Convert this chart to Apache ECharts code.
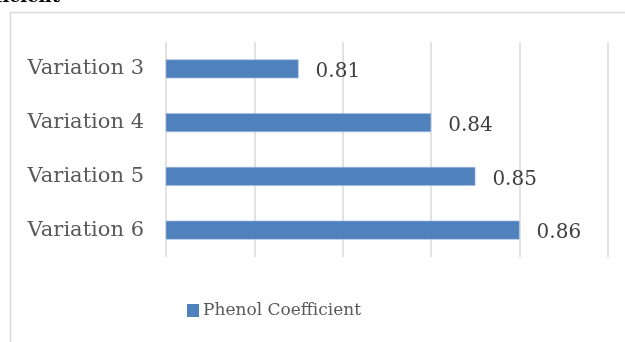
<!DOCTYPE html>
<html>
<head>
<meta charset="utf-8">
<script src="https://cdn.jsdelivr.net/npm/echarts@6/dist/echarts.min.js"></script>
<style>html,body{margin:0;padding:0;background:#fff}#c{width:625px;height:342px}</style>
</head>
<body>
<div id="c"></div>
<script>
const categories = ['Variation 3', 'Variation 4', 'Variation 5', 'Variation 6'];
const values = [0.81, 0.84, 0.85, 0.86];
const seriesName = 'Phenol Coefficient';
const titleText = 'Phenol Coefficient';

const FONT = 'DejaVu Serif';
const chart = echarts.init(document.getElementById('c'), null, {renderer: 'canvas'});
chart.setOption({
  animation: false,
  backgroundColor: '#fff',
  graphic: [
    {type: 'rect', shape: {x: 10.5, y: 12.5, width: 700, height: 400}, style: {fill: 'none', stroke: '#d9d9d9', lineWidth: 1.5}, silent: true},
    {type: 'text', x: 60, y: 6.5, style: {text: titleText, font: 'bold 18px ' + FONT, fill: '#000', align: 'right', verticalAlign: 'bottom'}, silent: true}
  ],
  grid: {left: 166, right: 17, top: 42, bottom: 85, containLabel: false},
  legend: {
    data: [seriesName], left: 182, top: 297, itemWidth: 12, itemHeight: 13, itemGap: 5,
    icon: 'rect', itemStyle: {borderWidth: 0},
    textStyle: {fontFamily: FONT, fontSize: 17, color: '#595959', padding: [0, 0, 0, -1]}
  },
  xAxis: {
    type: 'value', min: 0.78, max: 0.88, interval: 0.02,
    axisLabel: {show: false}, axisLine: {show: false}, axisTick: {show: false},
    splitLine: {show: true, lineStyle: {color: '#d9d9d9', width: 1.5}}
  },
  yAxis: {
    type: 'category', data: categories, inverse: true,
    axisLine: {show: false}, axisTick: {show: false},
    axisLabel: {fontFamily: FONT, fontSize: 21, color: '#595959', margin: 22}
  },
  series: [{
    name: seriesName, type: 'bar', data: values, barWidth: 19,
    itemStyle: {color: '#4f81bd', borderColor: '#a9c1e0', borderWidth: 0.6},
    label: {show: true, position: 'right', distance: 17, fontFamily: FONT, fontSize: 20, color: '#404040',
      offset: [0, 3], formatter: p => p.value.toFixed(2)}
  }]
});
</script>
</body>
</html>
